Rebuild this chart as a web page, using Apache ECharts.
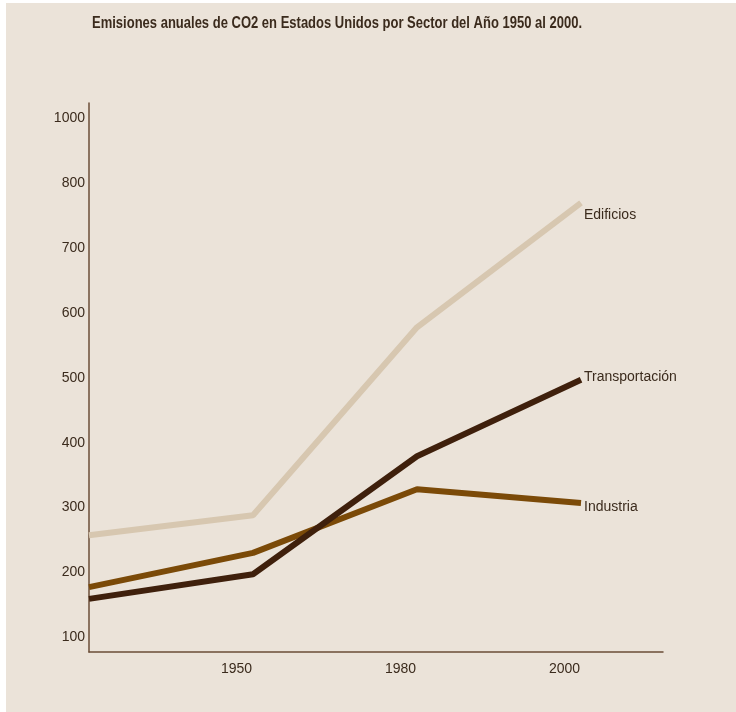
<!DOCTYPE html>
<html>
<head>
<meta charset="utf-8">
<script src="https://cdn.jsdelivr.net/npm/echarts@6/dist/echarts.min.js"></script>
<style>
  html, body { margin: 0; padding: 0; background: #ffffff; width: 736px; height: 712px; overflow: hidden; }
  #chart { position: absolute; left: 6px; top: 3px; width: 730px; height: 709px; }
</style>
</head>
<body>
<div id="chart"></div>
<script>
// Data
var titleText = 'Emisiones anuales de CO2 en Estados Unidos por Sector del Año 1950 al 2000.';
var xPositions = [0, 1, 2, 3];
var xTickValues = [1, 2, 3];
var xTickLabels = ['1950', '1980', '2000'];
var yTickValues = [100, 200, 300, 400, 500, 600, 700, 800, 900];
var yTickLabels = ['100', '200', '300', '400', '500', '600', '700', '800', '1000'];
var seriesNames = ['Edificios', 'Industria', 'Transportación'];
var edificios = [257, 288, 578, 770];
var industria = [177, 230, 328, 307];
var transportacion = [159, 197, 379, 497];

var FONT = '"Liberation Sans", Arial, sans-serif';
var TEXT = '#3b2b1d';
var AXIS = '#6b4e37';

function pairs(vals) {
  return vals.map(function (v, i) { return [xPositions[i], v]; });
}

var chart = echarts.init(document.getElementById('chart'), null, { renderer: 'canvas' });

function mkSeries(name, vals, color, width, offset) {
  return {
    name: name,
    type: 'line',
    data: pairs(vals),
    symbol: 'none',
    silent: true,
    lineStyle: { color: color, width: width },
    endLabel: {
      show: true,
      formatter: name,
      color: TEXT,
      fontFamily: FONT,
      fontSize: 14,
      distance: 3,
      offset: offset
    }
  };
}

chart.setOption({
  backgroundColor: '#ebe3d9',
  animation: false,
  graphic: [{
    type: 'text',
    x: 86,
    y: 20,
    scaleX: 0.765,
    silent: true,
    style: {
      text: titleText,
      font: 'bold 17px "Liberation Sans", Arial, sans-serif',
      fill: TEXT,
      verticalAlign: 'middle',
      align: 'left'
    }
  }],
  grid: { left: 83, right: 73, top: 100, bottom: 60 },
  xAxis: {
    type: 'value',
    min: 0,
    max: 3.5,
    splitLine: { show: false },
    axisTick: { show: false },
    axisLine: { lineStyle: { color: AXIS, width: 1.5 } },
    axisLabel: {
      customValues: xTickValues,
      formatter: function (v) {
        var i = xTickValues.indexOf(v);
        return i >= 0 ? xTickLabels[i] : '';
      },
      color: TEXT,
      fontFamily: FONT,
      fontSize: 14,
      margin: 10,
      padding: [0, 33, 0, 0]
    }
  },
  yAxis: {
    type: 'value',
    min: 77,
    max: 924,
    splitLine: { show: false },
    axisTick: { show: false },
    axisLine: { show: true, lineStyle: { color: AXIS, width: 1.5 } },
    axisLabel: {
      customValues: yTickValues,
      formatter: function (v) {
        var i = yTickValues.indexOf(v);
        return i >= 0 ? yTickLabels[i] : '';
      },
      color: TEXT,
      fontFamily: FONT,
      fontSize: 14,
      margin: 4
    }
  },
  series: [
    mkSeries(seriesNames[0], edificios, '#d7c7b0', 6, [0, 12]),
    mkSeries(seriesNames[1], industria, '#7b4a08', 6, [0, 4]),
    mkSeries(seriesNames[2], transportacion, '#3f200c', 6, [0, -3])
  ]
});
</script>
</body>
</html>
